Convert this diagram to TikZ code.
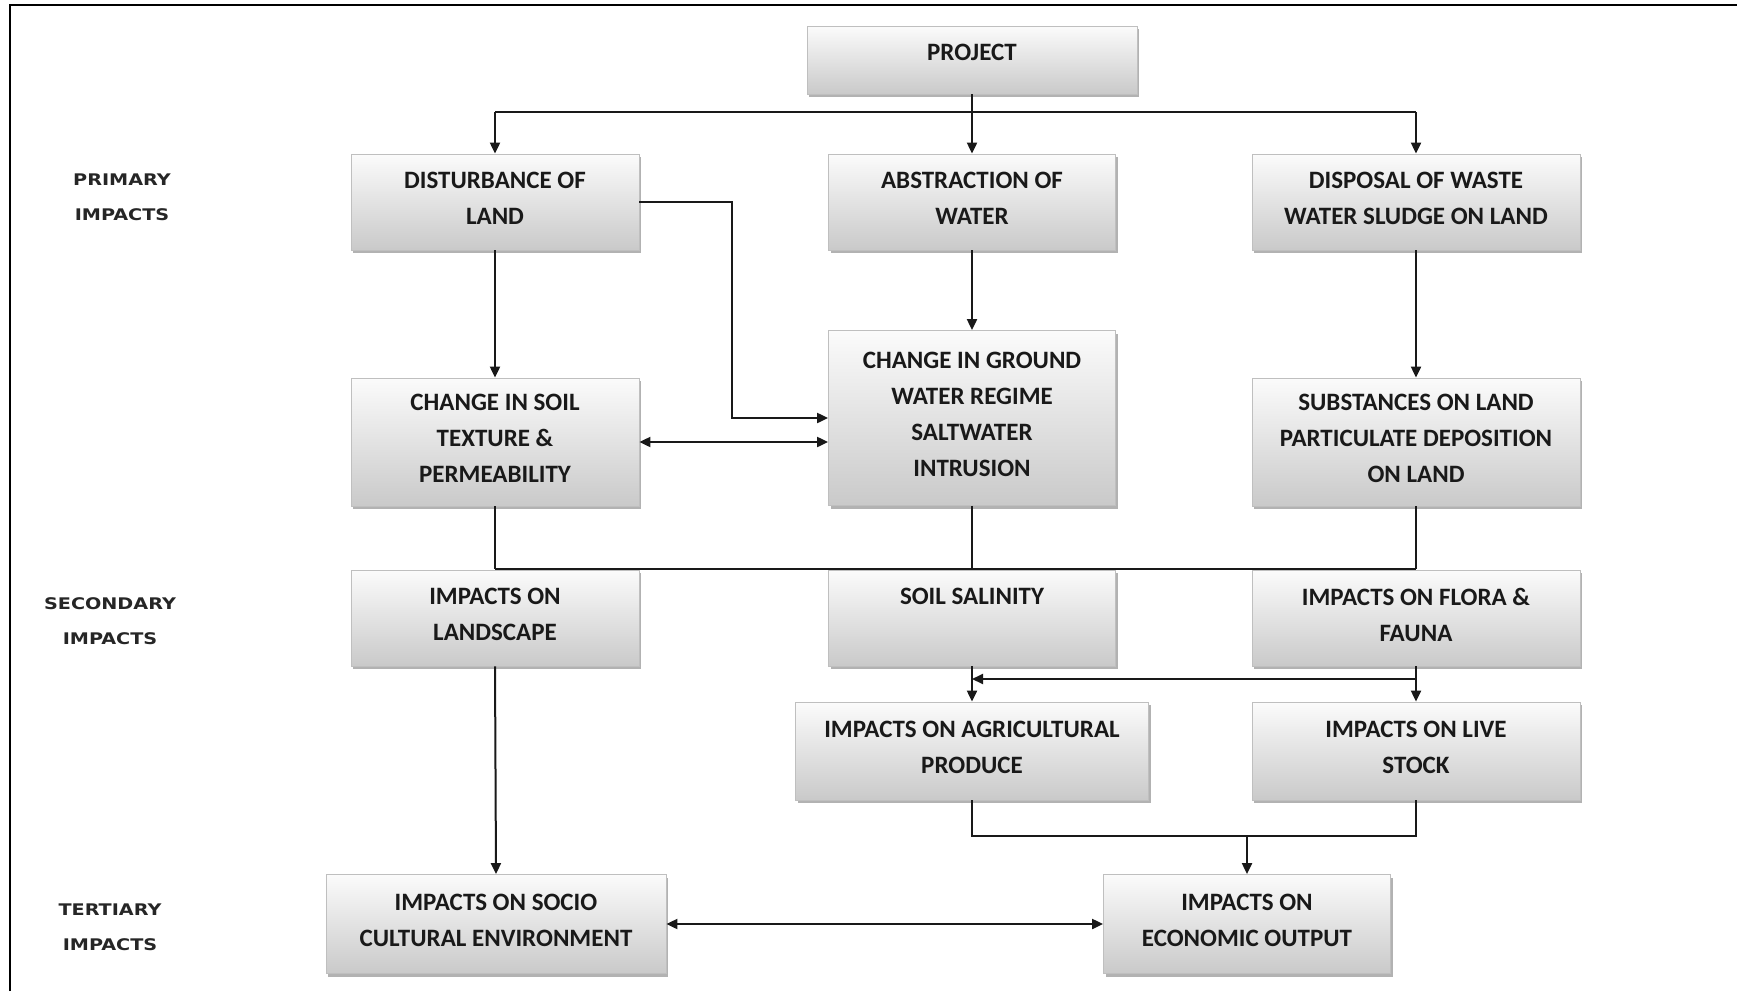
\documentclass[tikz,border=0pt]{standalone}
\usepackage{fontspec}
\setmainfont{Carlito}
\newfontfamily\lblfont[FakeStretch=1.2]{DejaVu Sans}
\usetikzlibrary{arrows.meta,shadows}

\begin{document}
\begin{tikzpicture}[x=1pt,y=-1pt,
  box/.style={draw=gray!50, line width=0.8pt,
    top color=gray!3, bottom color=gray!42,
    drop shadow={shadow xshift=2pt, shadow yshift=-3pt, fill=gray!75, opacity=0.8},
    font=\bfseries\fontsize{25}{36}\selectfont, text=black!90,
    align=center, inner sep=0pt, text depth=7pt},
  lbl/.style={font=\lblfont\bfseries\fontsize{16}{35}\selectfont, text=black!85,
    align=center, inner sep=0pt},
  link/.style={line width=2pt, draw=black!90},
  arr/.style={link, -{Triangle[length=11pt,width=10pt]}},
  dbl/.style={link, {Triangle[length=11pt,width=10pt]}-{Triangle[length=11pt,width=10pt]}}
]
\useasboundingbox (0,0) rectangle (1737,991);

% page frame (top and left rules)
\draw[line width=2pt] (10,991) -- (10,5) -- (1737,5);

% level labels
\node[lbl] (lp) at (122,197) {PRIMARY\\IMPACTS};
\node[lbl] (ls) at (110,621) {SECONDARY\\IMPACTS};
\node[lbl] (lt) at (110,927) {TERTIARY\\IMPACTS};

% boxes
\node[box, minimum width=330pt, minimum height=68pt, text depth=16pt] (proj) at (972,60) {PROJECT};

\node[box, minimum width=288pt, minimum height=96pt] (dist) at (495,202) {DISTURBANCE OF\\LAND};
\node[box, minimum width=287pt, minimum height=96pt] (abs) at (972,202) {ABSTRACTION OF\\WATER};
\node[box, minimum width=328pt, minimum height=96pt] (disp) at (1416,202) {DISPOSAL OF WASTE\\WATER SLUDGE ON LAND};

\node[box, minimum width=288pt, minimum height=128pt] (soil) at (495,442) {CHANGE IN SOIL\\TEXTURE \&\\PERMEABILITY};
\node[box, minimum width=287pt, minimum height=175pt] (gw) at (972,418) {CHANGE IN GROUND\\WATER REGIME\\SALTWATER\\INTRUSION};
\node[box, minimum width=328pt, minimum height=128pt] (subst) at (1416,442) {SUBSTANCES ON LAND\\PARTICULATE DEPOSITION\\ON LAND};

\node[box, minimum width=288pt, minimum height=96pt] (land) at (495,618) {IMPACTS ON\\LANDSCAPE};
\node[box, minimum width=287pt, minimum height=96pt] (sal) at (972,618) {SOIL SALINITY\\~};
\node[box, minimum width=328pt, minimum height=96pt] (flora) at (1416,618) {IMPACTS ON FLORA \&\\FAUNA};

\node[box, minimum width=353pt, minimum height=98pt] (agri) at (972,751) {IMPACTS ON AGRICULTURAL\\PRODUCE};
\node[box, minimum width=328pt, minimum height=98pt] (live) at (1416,751) {IMPACTS ON LIVE\\STOCK};

\node[box, minimum width=340pt, minimum height=99pt] (socio) at (496,924) {IMPACTS ON SOCIO\\CULTURAL ENVIRONMENT};
\node[box, minimum width=287pt, minimum height=99pt] (econ) at (1247,924) {IMPACTS ON\\ECONOMIC OUTPUT};

% bus and routing coordinates
\coordinate (b1) at (0,112);
\coordinate (el) at (732,0);
\coordinate (b2) at (0,569);
\coordinate (h3) at (0,679);
\coordinate (b4) at (0,836);

% project to primary impacts
\draw[link] (dist.north |- b1) -- (disp.north |- b1);
\draw[arr] (proj.south) -- (abs.north);
\draw[arr] (dist.north |- b1) -- (dist.north);
\draw[arr] (disp.north |- b1) -- (disp.north);

% primary to second row
\draw[arr] (dist.south) -- (soil.north);
\draw[arr] (abs.south) -- (gw.north);
\draw[arr] (disp.south) -- (subst.north);
\draw[arr] (dist.east) -- (dist.east -| el) -- (el |- gw.west) -- (gw.west);
\draw[dbl] (soil.east) -- (soil.east -| gw.west);

% bus over the secondary impacts
\draw[link] (soil.south) -- (soil.south |- b2);
\draw[link] (gw.south) -- (gw.south |- b2);
\draw[link] (subst.south) -- (subst.south |- b2);
\draw[link] (soil.south |- b2) -- (subst.south |- b2);

% secondary to further impacts
\draw[arr] (sal.south) -- (agri.north);
\draw[arr] (flora.south) -- (live.north);
\draw[arr] (flora.south |- h3) -- (sal.south |- h3);
\draw[arr] (land.south) -- (socio.north);

% to economic output
\draw[link] (agri.south) -- (agri.south |- b4) -- (live.south |- b4) -- (live.south);
\draw[arr] (econ.north |- b4) -- (econ.north);
\draw[dbl] (socio.east) -- (econ.west);

\end{tikzpicture}
\end{document}
